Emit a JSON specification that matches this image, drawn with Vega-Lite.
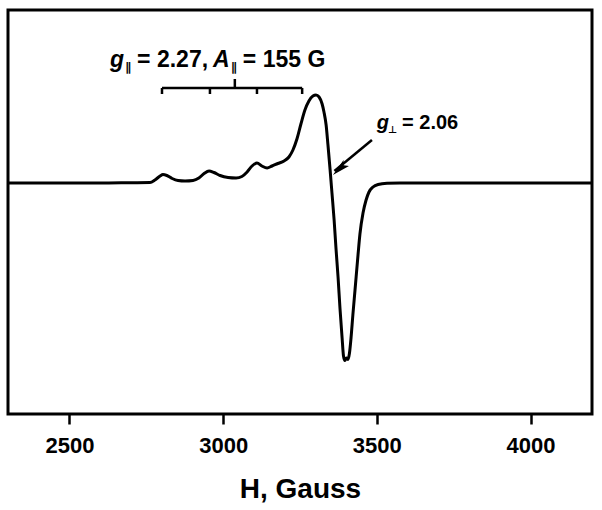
{
  "$schema": "https://vega.github.io/schema/vega-lite/v6.json",
  "width": 584,
  "height": 404,
  "autosize": {"type": "none"},
  "padding": {"left": 8, "top": 10, "right": 10, "bottom": 96},
  "background": "white",
  "config": {
    "view": {"stroke": "black", "strokeWidth": 3},
    "font": "Liberation Sans",
    "axis": {"grid": false}
  },
  "datasets": {
    "spectrum": [
      {"H": 2300, "signal": 0}, {"H": 2450, "signal": 0}, {"H": 2599, "signal": 0}, {"H": 2700, "signal": 0.3},
      {"H": 2762, "signal": 0.5}, {"H": 2778, "signal": 3}, {"H": 2795, "signal": 7}, {"H": 2804, "signal": 8.5},
      {"H": 2817, "signal": 7.5}, {"H": 2834, "signal": 4.5}, {"H": 2853, "signal": 2.5}, {"H": 2876, "signal": 2},
      {"H": 2902, "signal": 2.5}, {"H": 2921, "signal": 5}, {"H": 2938, "signal": 9.5}, {"H": 2954, "signal": 12},
      {"H": 2970, "signal": 10.5}, {"H": 2990, "signal": 7.5}, {"H": 3016, "signal": 5.5}, {"H": 3042, "signal": 5},
      {"H": 3061, "signal": 6.5}, {"H": 3078, "signal": 11}, {"H": 3094, "signal": 17}, {"H": 3110, "signal": 20},
      {"H": 3126, "signal": 17}, {"H": 3143, "signal": 15}, {"H": 3159, "signal": 17}, {"H": 3178, "signal": 19.5},
      {"H": 3198, "signal": 22}, {"H": 3214, "signal": 26}, {"H": 3227, "signal": 33}, {"H": 3240, "signal": 44},
      {"H": 3253, "signal": 59}, {"H": 3266, "signal": 73}, {"H": 3279, "signal": 82}, {"H": 3292, "signal": 87},
      {"H": 3302, "signal": 88}, {"H": 3312, "signal": 86}, {"H": 3322, "signal": 79}, {"H": 3328, "signal": 71},
      {"H": 3335, "signal": 58}, {"H": 3341, "signal": 38}, {"H": 3348, "signal": 13}, {"H": 3354, "signal": -10},
      {"H": 3361, "signal": -37}, {"H": 3367, "signal": -65}, {"H": 3374, "signal": -95}, {"H": 3380, "signal": -125},
      {"H": 3387, "signal": -155}, {"H": 3391.5, "signal": -173}, {"H": 3396, "signal": -177.5}, {"H": 3401, "signal": -175},
      {"H": 3406, "signal": -176.5}, {"H": 3411, "signal": -170}, {"H": 3416, "signal": -155}, {"H": 3422, "signal": -132},
      {"H": 3429, "signal": -107}, {"H": 3439, "signal": -71}, {"H": 3445, "signal": -51}, {"H": 3455, "signal": -30},
      {"H": 3465, "signal": -17}, {"H": 3474.5, "signal": -9}, {"H": 3487.5, "signal": -4}, {"H": 3504, "signal": -1.5},
      {"H": 3533, "signal": -0.3}, {"H": 3575, "signal": 0}, {"H": 3750, "signal": 0}, {"H": 3901, "signal": 0},
      {"H": 4050, "signal": 0}, {"H": 4200, "signal": 0}
    ]
  },
  "encoding": {
    "x": {
      "field": "H", "type": "quantitative",
      "scale": {"domain": [2300, 4200], "nice": false, "zero": false},
      "axis": {
        "title": "H, Gauss",
        "values": [2500, 3000, 3500, 4000],
        "format": "d",
        "domain": false,
        "ticks": true,
        "tickColor": "black",
        "tickWidth": 2.5,
        "tickSize": 10,
        "labelFont": "Liberation Sans",
        "labelFontWeight": "bold",
        "labelFontSize": 22,
        "labelColor": "black",
        "labelPadding": 11,
        "titleFont": "Liberation Sans",
        "titleFontWeight": "bold",
        "titleFontSize": 28,
        "titleColor": "black",
        "titleBaseline": "alphabetic",
        "titleY": 83
      }
    },
    "y": {
      "field": "signal", "type": "quantitative",
      "scale": {"domain": [-231, 173], "nice": false, "zero": false},
      "axis": null
    }
  },
  "layer": [
    {
      "data": {"name": "spectrum"},
      "mark": {"type": "line", "color": "black", "strokeWidth": 3, "interpolate": "monotone"}
    },
    {
      "data": {"values": [{"H": 2801, "H2": 3257, "signal": 95}]},
      "mark": {"type": "rule", "color": "black", "strokeWidth": 2.5},
      "encoding": {"x2": {"field": "H2"}}
    },
    {
      "data": {"values": [
        {"H": 2801, "signal": 95, "signal2": 89},
        {"H": 2957, "signal": 95, "signal2": 89},
        {"H": 3110, "signal": 95, "signal2": 89},
        {"H": 3257, "signal": 95, "signal2": 89},
        {"H": 3038, "signal": 95, "signal2": 104}
      ]},
      "mark": {"type": "rule", "color": "black", "strokeWidth": 2.5},
      "encoding": {"y2": {"field": "signal2"}}
    },
    {
      "data": {"values": [{"H": 3484, "signal": 43, "H2": 3362, "signal2": 12}]},
      "mark": {"type": "rule", "color": "black", "strokeWidth": 2.5},
      "encoding": {"x2": {"field": "H2"}, "y2": {"field": "signal2"}}
    },
    {
      "data": {"values": [{"H": 3357, "signal": 8}]},
      "mark": {"type": "point", "shape": "M0,0 L0.45,2 L0,1.6 L-0.45,2 Z", "size": 324, "angle": 228, "filled": true, "color": "black", "opacity": 1}
    },
    {
      "data": {"values": [
        {"H": 2632, "signal": 116, "label": "g"},
        {"H": 2967, "signal": 116, "label": "A"}
      ]},
      "mark": {"type": "text", "font": "Liberation Sans", "fontWeight": "bold", "fontStyle": "italic", "fontSize": 23, "align": "left", "baseline": "alphabetic", "color": "black"},
      "encoding": {"text": {"field": "label"}}
    },
    {
      "data": {"values": [
        {"H": 2720, "signal": 116, "label": "= 2.27,"},
        {"H": 3064, "signal": 116, "label": "= 155 G"}
      ]},
      "mark": {"type": "text", "font": "Liberation Sans", "fontWeight": "bold", "fontSize": 23, "align": "left", "baseline": "alphabetic", "color": "black"},
      "encoding": {"text": {"field": "label"}}
    },
    {
      "data": {"values": [
        {"H": 3500, "signal": 54, "label": "g"}
      ]},
      "mark": {"type": "text", "font": "Liberation Sans", "fontWeight": "bold", "fontStyle": "italic", "fontSize": 20, "align": "left", "baseline": "alphabetic", "color": "black"},
      "encoding": {"text": {"field": "label"}}
    },
    {
      "data": {"values": [
        {"H": 3582, "signal": 54, "label": "= 2.06"}
      ]},
      "mark": {"type": "text", "font": "Liberation Sans", "fontWeight": "bold", "fontSize": 20, "align": "left", "baseline": "alphabetic", "color": "black"},
      "encoding": {"text": {"field": "label"}}
    },
    {
      "data": {"values": [
        {"H": 2681, "signal": 112.5, "label": "∥"},
        {"H": 3025, "signal": 112.5, "label": "∥"}
      ]},
      "mark": {"type": "text", "font": "DejaVu Sans", "fontWeight": "bold", "fontSize": 12, "align": "left", "baseline": "alphabetic", "fill": "black", "color": "black"},
      "encoding": {"text": {"field": "label"}}
    },
    {
      "data": {"values": [
        {"H": 3536, "signal": 50, "label": "⊥"}
      ]},
      "mark": {"type": "text", "font": "DejaVu Sans", "fontWeight": "bold", "fontSize": 10, "align": "left", "baseline": "alphabetic", "fill": "black", "color": "black"},
      "encoding": {"text": {"field": "label"}}
    }
  ]
}
